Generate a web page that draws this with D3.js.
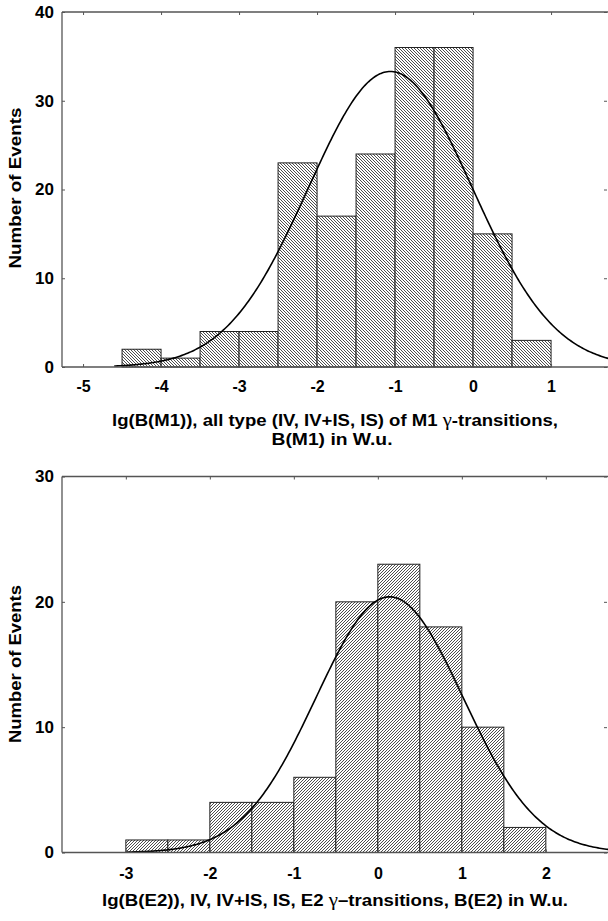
<!DOCTYPE html>
<html>
<head>
<meta charset="utf-8">
<script src="https://cdn.jsdelivr.net/npm/d3@7"></script>
<style>
  html, body { margin: 0; padding: 0; background: #fff; }
  svg { display: block; }
  text { font-family: "Liberation Sans", Arial, sans-serif; font-weight: bold; fill: #000; }
</style>
</head>
<body>
<svg id="chart" width="608" height="921"></svg>
<script>
// ---- Data ----
const binWidth = 0.5;

// Top panel: lg(B(M1))
const m1BinStart = [-4.5, -4, -3.5, -3, -2.5, -2, -1.5, -1, -0.5, 0, 0.5];
const m1Counts   = [2, 1, 4, 4, 23, 17, 24, 36, 36, 15, 3];
const m1XTicks   = [-5, -4, -3, -2, -1, 0, 1];
const m1YTicks   = [0, 10, 20, 30, 40];
const m1FitMean = -1.06, m1FitSigma = 1.05, m1FitPeak = 33.3;
const m1FitRange = [-4.6, 1.8];

// Bottom panel: lg(B(E2))
const e2BinStart = [-3, -2.5, -2, -1.5, -1, -0.5, 0, 0.5, 1, 1.5];
const e2Counts   = [1, 1, 4, 4, 6, 20, 23, 18, 10, 2];
const e2XTicks   = [-3, -2, -1, 0, 1, 2];
const e2YTicks   = [0, 10, 20, 30];
const e2FitMean = 0.14, e2FitSigma = 0.875, e2FitPeak = 20.4;
const e2FitRange = [-3.0, 2.8];

const yLabel = "Number of Events";

const svg = d3.select("#chart");
const defs = svg.append("defs");

function hatch(id, dir) {
  const s = 3;
  const p = defs.append("pattern")
    .attr("id", id)
    .attr("patternUnits", "userSpaceOnUse")
    .attr("width", s).attr("height", s);
  p.append("rect").attr("width", s).attr("height", s).attr("fill", "#fff");
  const d = dir === "back"
    ? `M-1,-1 L${s+1},${s+1} M-1,${s-1} L1,${s+1} M${s-1},-1 L${s+1},1`
    : `M-1,${s+1} L${s+1},-1 M-1,1 L1,-1 M${s-1},${s+1} L${s+1},${s-1}`;
  p.append("path").attr("d", d).attr("stroke", "#3a3a3a").attr("stroke-width", 0.9);
}
hatch("hatchBack", "back");
hatch("hatchFwd", "fwd");

const fmt = d => String(d);

function panel(cfg) {
  const x = d3.scaleLinear().domain(cfg.xDomain).range([62, 608]);
  const y = d3.scaleLinear().domain(cfg.yDomain).range(cfg.yRange);
  const g = svg.append("g");
  const y0 = y(0), yTop = y(cfg.yDomain[1]);

  // bars
  g.selectAll("rect.bar").data(cfg.binStart.map((s, i) => ({s, c: cfg.counts[i]})))
    .enter().append("rect").attr("class", "bar")
    .attr("x", d => x(d.s))
    .attr("width", d => x(d.s + binWidth) - x(d.s))
    .attr("y", d => y(d.c))
    .attr("height", d => y0 - y(d.c))
    .attr("fill", `url(#${cfg.pattern})`)
    .attr("stroke", "#222").attr("stroke-width", 1);

  // fitted normal curve
  const pts = d3.range(cfg.fitRange[0], cfg.fitRange[1] + 0.001, 0.02);
  const line = d3.line()
    .x(v => x(v))
    .y(v => y(cfg.fitPeak * Math.exp(-((v - cfg.fitMean) ** 2) / (2 * cfg.fitSigma ** 2))));
  g.append("path").datum(pts).attr("d", line)
    .attr("fill", "none").attr("stroke", "#000").attr("stroke-width", 1.6);

  // frame lines
  const frame = (x1, y1, x2, y2) => g.append("line")
    .attr("x1", x1).attr("y1", y1).attr("x2", x2).attr("y2", y2)
    .attr("stroke", "#555").attr("stroke-width", 1.3);
  frame(62, y0, 608, y0);
  frame(62, yTop, 608, yTop);
  frame(62, yTop, 62, y0);

  // bottom axis (ticks inward)
  const xa = g.append("g").attr("transform", `translate(0,${y0})`)
    .call(d3.axisBottom(x).tickValues(cfg.xTicks).tickFormat(fmt)
      .tickSizeInner(-3).tickSizeOuter(0).tickPadding(cfg.xPad));
  xa.select(".domain").remove();
  xa.selectAll("line").attr("stroke", "#555");
  xa.selectAll("text").style("font-size", "16px").attr("fill", "#000");

  // top ticks
  const xt = g.append("g").attr("transform", `translate(0,${yTop})`)
    .call(d3.axisTop(x).tickValues(cfg.xTicks).tickFormat("").tickSizeInner(-3).tickSizeOuter(0));
  xt.select(".domain").remove();
  xt.selectAll("line").attr("stroke", "#555");

  // left axis
  const ya = g.append("g").attr("transform", "translate(62,0)")
    .call(d3.axisLeft(y).tickValues(cfg.yTicks).tickFormat(fmt)
      .tickSizeInner(-3).tickSizeOuter(0).tickPadding(8));
  ya.select(".domain").remove();
  ya.selectAll("line").attr("stroke", "#555");
  ya.selectAll("text").style("font-size", "17px").attr("fill", "#000");

  // right ticks
  const yr = g.append("g").attr("transform", "translate(607,0)")
    .call(d3.axisRight(y).tickValues(cfg.yTicks).tickFormat("").tickSizeInner(-3).tickSizeOuter(0));
  yr.select(".domain").remove();
  yr.selectAll("line").attr("stroke", "#555");

  // y label
  g.append("text")
    .attr("transform", `translate(21,${cfg.yLabelCenter}) rotate(-90)`)
    .attr("text-anchor", "middle")
    .attr("textLength", cfg.yLabelLen).attr("lengthAdjust", "spacingAndGlyphs")
    .style("font-size", "17px")
    .text(yLabel);

  // x title
  cfg.title.forEach((parts, i) => {
    const t = g.append("text")
      .attr("x", cfg.titleX[i]).attr("y", cfg.titleY[i])
      .attr("text-anchor", "middle").style("font-size", "17px")
      .attr("textLength", cfg.titleLen[i]).attr("lengthAdjust", "spacingAndGlyphs");
    parts.forEach(p => {
      const ts = t.append("tspan").text(p.t);
      if (p.greek) ts.style("font-family", "'Liberation Serif', 'DejaVu Serif', serif").style("font-weight", "normal").style("font-size", "19px");
    });
  });
}

panel({
  xDomain: [-5.27, 1.73], yDomain: [0, 40], yRange: [367, 12],
  binStart: m1BinStart, counts: m1Counts, pattern: "hatchBack",
  fitMean: m1FitMean, fitSigma: m1FitSigma, fitPeak: m1FitPeak, fitRange: m1FitRange,
  xTicks: m1XTicks, yTicks: m1YTicks, xPad: 14,
  yLabelCenter: 188, yLabelLen: 161,
  titleX: [335, 332], titleY: [426, 445], titleLen: [446, 121],
  title: [
    [{t: "lg(B(M1)), all type (IV, IV+IS, IS) of M1 "}, {t: "γ", greek: true}, {t: "-transitions,"}],
    [{t: "B(M1) in W.u."}]
  ]
});

panel({
  xDomain: [-3.76, 2.74], yDomain: [0, 30], yRange: [852.5, 476.5],
  binStart: e2BinStart, counts: e2Counts, pattern: "hatchFwd",
  fitMean: e2FitMean, fitSigma: e2FitSigma, fitPeak: e2FitPeak, fitRange: e2FitRange,
  xTicks: e2XTicks, yTicks: e2YTicks, xPad: 15,
  yLabelCenter: 664, yLabelLen: 158,
  titleX: [335], titleY: [906], titleLen: [466],
  title: [
    [{t: "lg(B(E2)), IV, IV+IS, IS, E2 "}, {t: "γ", greek: true}, {t: "–transitions, B(E2) in W.u."}]
  ]
});
</script>
</body>
</html>
